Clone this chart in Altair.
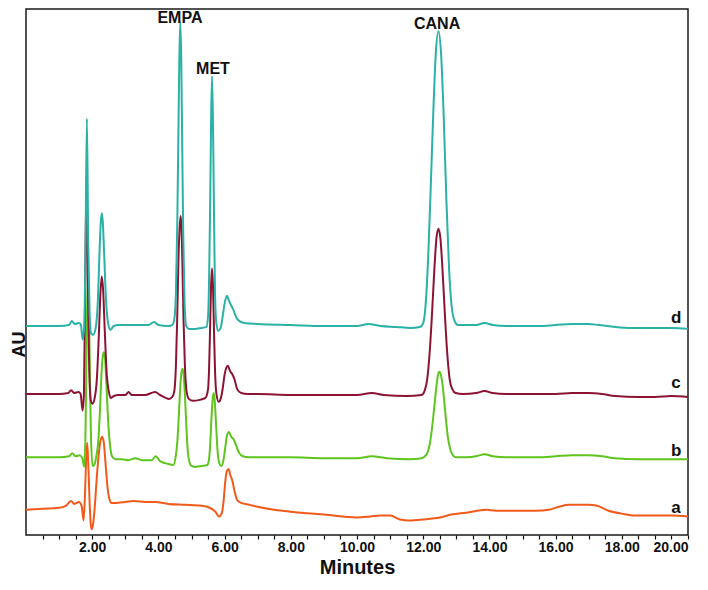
import altair as alt
import pandas as pd

# ---- chromatogram traces: (minutes, AU arbitrary units) ----
d_points = [(0.0,215),(0.5,215),(1.0,215),(1.3,216),(1.38,220),(1.48,217),(1.6,218),(1.66,216),(1.71,201),(1.76,215),(1.80,300),(1.84,428),(1.88,300),(1.92,230),(1.97,207),(2.03,206),(2.1,212),(2.17,240),(2.22,290),(2.26,322),(2.29,331),(2.32,322),(2.36,290),(2.42,240),(2.48,218),(2.55,211),(2.65,215),(2.8,216),(3.2,216),(3.7,216),(3.87,219),(4.0,216),(4.3,215),(4.42,216),(4.48,222),(4.53,250),(4.57,320),(4.60,400),(4.63,485),(4.66,528),(4.69,490),(4.72,400),(4.75,310),(4.79,240),(4.84,215),(4.92,212),(5.1,212),(5.3,213),(5.45,214),(5.50,225),(5.53,260),(5.56,330),(5.59,420),(5.62,472),(5.65,420),(5.68,330),(5.71,250),(5.75,218),(5.81,210),(5.87,212),(5.93,222),(6.0,238),(6.07,246),(6.14,240),(6.2,236),(6.26,232),(6.35,224),(6.45,220),(6.6,218),(7.0,217),(8.0,216),(9.0,215),(10.0,215),(10.35,217),(10.7,215),(11.2,214),(11.6,213),(11.9,214),(12.0,218),(12.08,240),(12.15,285),(12.22,350),(12.30,430),(12.38,495),(12.46,518),(12.54,495),(12.62,430),(12.70,345),(12.78,275),(12.86,235),(12.95,220),(13.05,216),(13.3,216),(13.6,216),(13.85,218),(14.1,216),(14.5,215),(15.0,215),(15.5,215),(16.0,216),(16.5,217),(17.0,217),(17.3,216),(17.8,214),(18.3,213),(19.0,213),(19.5,213),(20.0,212)]

c_points = [(0.0,145),(0.5,145),(1.0,145),(1.28,146),(1.36,149),(1.46,146),(1.58,147),(1.65,145),(1.71,128),(1.75,145),(1.79,260),(1.83,370),(1.87,260),(1.91,170),(1.96,138),(2.01,135),(2.07,140),(2.14,160),(2.20,205),(2.25,250),(2.29,266),(2.33,252),(2.38,210),(2.44,165),(2.50,148),(2.56,141),(2.65,143),(2.8,144),(3.0,144),(3.1,147),(3.2,144),(3.6,144),(3.9,147),(4.05,144),(4.32,140),(4.42,142),(4.48,148),(4.53,175),(4.57,225),(4.60,275),(4.64,315),(4.67,328),(4.70,315),(4.73,270),(4.76,220),(4.80,175),(4.85,148),(4.92,140),(5.05,138),(5.25,139),(5.42,141),(5.50,150),(5.53,170),(5.56,210),(5.59,255),(5.62,274),(5.65,255),(5.68,210),(5.71,170),(5.75,146),(5.82,137),(5.88,140),(5.94,150),(6.0,165),(6.05,172),(6.10,174),(6.16,169),(6.22,166),(6.30,160),(6.38,150),(6.5,146),(6.7,145),(7.0,145),(8.0,144),(9.0,144),(10.0,144),(10.45,146),(10.8,144),(11.5,143),(11.95,144),(12.05,149),(12.12,160),(12.20,190),(12.27,230),(12.34,275),(12.40,305),(12.46,315),(12.52,305),(12.58,275),(12.65,230),(12.72,190),(12.80,160),(12.88,150),(12.98,146),(13.2,145),(13.6,146),(13.85,148),(14.1,146),(14.5,145),(15.0,145),(15.5,145),(16.0,145),(16.5,146),(17.0,146),(17.4,145),(17.8,143),(18.5,142),(19.0,142),(19.5,143),(20.0,142)]

b_points = [(0.0,80),(0.5,80),(1.0,80),(1.3,81),(1.40,84),(1.5,81),(1.62,82),(1.70,79),(1.76,70),(1.80,110),(1.84,220),(1.88,273),(1.92,190),(1.96,105),(2.01,71),(2.06,72),(2.12,80),(2.18,95),(2.23,125),(2.28,165),(2.32,184),(2.35,188),(2.39,180),(2.43,155),(2.48,118),(2.54,92),(2.60,81),(2.7,78),(2.9,78),(3.1,77),(3.3,79),(3.5,77),(3.8,77),(3.92,81),(4.05,76),(4.3,73),(4.45,72),(4.52,80),(4.57,95),(4.62,125),(4.66,152),(4.70,168),(4.73,171),(4.76,166),(4.80,145),(4.84,115),(4.88,90),(4.93,76),(5.0,71),(5.1,70),(5.3,71),(5.48,72),(5.52,76),(5.56,90),(5.60,118),(5.64,140),(5.67,146),(5.70,139),(5.74,115),(5.78,90),(5.83,75),(5.90,71),(5.96,76),(6.02,90),(6.07,102),(6.13,106),(6.2,101),(6.28,98),(6.35,92),(6.43,85),(6.55,81),(6.75,80),(7.0,80),(8.0,80),(9.0,79),(10.0,79),(10.45,81),(10.9,79),(11.6,78),(11.95,79),(12.05,81),(12.12,84),(12.19,92),(12.26,108),(12.33,130),(12.40,153),(12.45,165),(12.49,168),(12.54,164),(12.60,150),(12.67,125),(12.74,102),(12.82,88),(12.90,82),(13.0,80),(13.3,80),(13.6,81),(13.85,83),(14.1,81),(14.5,80),(15.0,80),(15.5,80),(16.0,81),(16.5,82),(17.0,82),(17.4,81),(17.8,79),(18.5,78),(19.5,78),(20.0,78)]

a_points = [(0.0,26),(0.5,27),(1.0,28),(1.2,30),(1.36,35),(1.46,32),(1.6,34),(1.68,30),(1.74,15),(1.78,40),(1.82,80),(1.85,95),(1.88,75),(1.92,35),(1.96,10),(1.99,6),(2.03,12),(2.08,30),(2.13,55),(2.19,80),(2.25,97),(2.30,101),(2.35,95),(2.40,75),(2.46,50),(2.52,37),(2.58,33),(2.7,33),(3.0,34),(3.25,35),(3.6,34),(3.9,34),(4.3,32),(4.8,31),(5.3,30),(5.55,28),(5.72,24),(5.83,19),(5.92,23),(5.97,35),(6.02,55),(6.07,66),(6.12,68),(6.17,62),(6.24,55),(6.30,45),(6.38,36),(6.5,33),(6.75,31),(7.0,29),(7.5,26),(8.0,24),(8.3,23),(9.0,21),(10.0,18),(10.4,19),(10.7,20),(11.0,20),(11.3,16),(11.6,15),(12.0,16),(12.5,18),(12.85,21),(13.3,23),(13.9,26),(14.2,25),(14.8,25),(15.4,25),(15.8,26),(16.1,29),(16.4,31),(17.0,31),(17.25,30),(17.6,25),(18.0,22),(18.4,20),(19.0,20),(19.5,20),(20.0,19)]

trace_names = ["a", "b", "c", "d"]
trace_colors = ["#F25A1C", "#5EC41E", "#8C1432", "#29B2A5"]

peak_labels = ["EMPA", "MET", "CANA"]
peak_t = [4.65, 5.65, 12.42]
peak_v = [527, 474, 520]

trace_label_t = [19.64, 19.64, 19.64, 19.64]
trace_label_v = [23, 81, 151, 218]

tick_values = [0.5 * i for i in range(1, 41)]

FONT = "Liberation Sans"
NARROW = "'Liberation Sans Narrow', 'Liberation Sans', sans-serif"

x_enc = alt.X(
    "t:Q",
    scale=alt.Scale(domain=[0, 20], nice=False, zero=False),
    axis=alt.Axis(
        values=tick_values,
        labelExpr="datum.value % 2 == 0 ? format(datum.value, '.2f') : ''",
        tickSize=4, tickColor="#111", tickWidth=1.2,
        labelFont=NARROW, labelFontSize=14, labelFontWeight="bold",
        labelColor="#111", labelPadding=1, labelOverlap=False,
        domain=False, grid=False,
        title="Minutes", titleFont=FONT, titleFontSize=20,
        titleFontWeight="bold", titleColor="#111",
        titleBaseline="alphabetic", titleY=38,
    ),
)
y_enc = alt.Y(
    "v:Q",
    scale=alt.Scale(domain=[0, 541], nice=False, zero=False),
    axis=alt.Axis(
        title="AU", labels=False, ticks=False, domain=False, grid=False,
        titleFont=FONT, titleFontSize=18, titleFontWeight="bold",
        titleColor="#111", titleAngle=270, titleAlign="center",
        titleBaseline="alphabetic", titleX=-1.8, titleY=335,
    ),
)

layers = []
for name, color, pts in zip(trace_names, trace_colors, [a_points, b_points, c_points, d_points]):
    df = pd.DataFrame(pts, columns=["t", "v"])
    layers.append(
        alt.Chart(df).mark_line(color=color, strokeWidth=2, interpolate="monotone")
        .encode(x=x_enc, y=y_enc)
    )

peaks_df = pd.DataFrame({"t": peak_t, "v": peak_v, "label": peak_labels})
layers.append(
    alt.Chart(peaks_df).mark_text(font=FONT, fontSize=16, fontWeight="bold",
                                  color="#111", align="center", baseline="alphabetic")
    .encode(x=x_enc, y=y_enc, text="label:N")
)

tl_df = pd.DataFrame({"t": trace_label_t, "v": trace_label_v, "label": trace_names})
layers.append(
    alt.Chart(tl_df).mark_text(font=FONT, fontSize=17, fontWeight="bold",
                               color="#111", align="center", baseline="alphabetic")
    .encode(x=x_enc, y=y_enc, text="label:N")
)

chart = alt.layer(*layers).properties(
    width=662, height=526,
    padding={"left": 18, "top": 1, "right": 12, "bottom": 42},
    autosize=alt.AutoSizeParams(type="none"),
    background="white",
).configure_view(stroke="#1a1a1a", strokeWidth=1.5)

chart.save("out.html", embed_options={"renderer": "svg", "actions": False})
